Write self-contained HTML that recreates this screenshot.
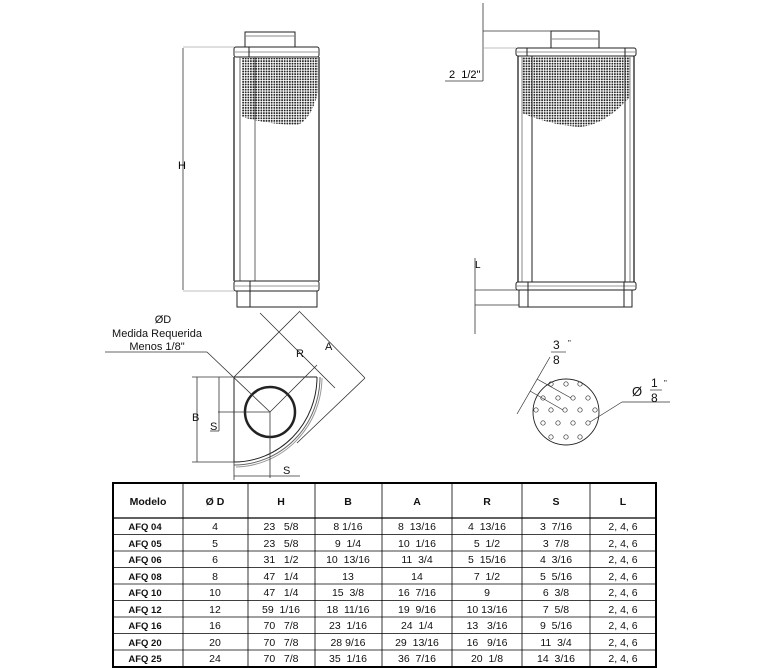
<!DOCTYPE html>
<html><head><meta charset="utf-8"><style>
html,body{margin:0;padding:0;background:#fff;}
svg{display:block;font-family:"Liberation Sans",sans-serif;}
text{white-space:pre;}
</style></head><body>
<svg width="778" height="668" viewBox="0 0 778 668" xmlns="http://www.w3.org/2000/svg">
<defs>
<pattern id="dots" width="2.6" height="2.6" patternUnits="userSpaceOnUse">
<circle cx="1.3" cy="1.3" r="0.95" fill="#222"/>
</pattern>
</defs>

<!-- LEFT FILTER -->
<g stroke="#222" fill="none" stroke-width="1">
<rect x="245" y="32" width="50" height="15"/>
<line x1="245" y1="36" x2="295" y2="36" stroke="#888"/>
<rect x="234" y="47" width="85" height="10" rx="2"/>
<line x1="234" y1="52" x2="319" y2="52" stroke="#999"/>
<line x1="234" y1="57" x2="234" y2="281" stroke-width="1.3"/>
<line x1="319" y1="57" x2="319" y2="281" stroke-width="1.3"/>
<line x1="240" y1="57" x2="240" y2="281" stroke="#666"/>
<line x1="255" y1="57" x2="255" y2="281" stroke="#666"/>
<line x1="249" y1="47" x2="249" y2="57"/>
<rect x="234" y="281" width="85" height="10" rx="2"/>
<line x1="234" y1="286" x2="319" y2="286" stroke="#999"/>
<rect x="237" y="291" width="80" height="16"/>
<line x1="250" y1="281" x2="250" y2="307"/>
</g>
<path d="M242,58 L318,58 L318,92 Q312,118 298,125 Q270,125 242,117 Z" fill="url(#dots)"/>
<g stroke="#333" stroke-width="0.8">
<line x1="183" y1="47" x2="234" y2="47" stroke="#aaa"/>
<line x1="183" y1="291" x2="234" y2="291" stroke="#aaa"/>
<line x1="183" y1="48" x2="183" y2="290"/>
</g>
<text x="178" y="169" font-size="11">H</text>

<!-- RIGHT FILTER -->
<g stroke="#222" fill="none" stroke-width="1">
<rect x="551" y="31" width="48" height="17"/>
<line x1="551" y1="39" x2="599" y2="39" stroke="#888"/>
<rect x="516" y="48" width="120" height="8" rx="2"/>
<line x1="516" y1="52" x2="636" y2="52" stroke="#999"/>
<line x1="527" y1="48" x2="527" y2="56"/>
<line x1="625" y1="48" x2="625" y2="56"/>
<line x1="518" y1="56" x2="518" y2="282" stroke-width="1.3"/>
<line x1="634" y1="56" x2="634" y2="282" stroke-width="1.3"/>
<line x1="522" y1="56" x2="522" y2="282" stroke="#888"/>
<line x1="532" y1="56" x2="532" y2="282"/>
<line x1="625" y1="56" x2="625" y2="282"/>
<line x1="630" y1="56" x2="630" y2="282" stroke="#888"/>
<rect x="516" y="282" width="120" height="8" rx="2"/>
<line x1="516" y1="286" x2="636" y2="286" stroke="#999"/>
<line x1="528" y1="282" x2="528" y2="307"/>
<line x1="624" y1="282" x2="624" y2="307"/>
<rect x="519" y="290" width="113" height="17"/>
</g>
<path d="M522,57 L630,57 L630,97 Q605,125 580,127 Q550,125 522,113 Z" fill="url(#dots)"/>
<g stroke="#333" stroke-width="0.8">
<line x1="483" y1="3" x2="483" y2="81"/>
<line x1="483" y1="31" x2="551" y2="31"/>
<line x1="483" y1="48" x2="516" y2="48" stroke="#aaa"/>
<line x1="445" y1="81" x2="483" y2="81"/>
<line x1="475" y1="258" x2="475" y2="334"/>
<line x1="475" y1="290" x2="519" y2="290"/>
<line x1="475" y1="305" x2="519" y2="305"/>
</g>
<text x="449" y="78" font-size="11">2  1/2"</text>
<text x="475" y="268" font-size="10">L</text>

<!-- CROSS SECTION -->
<g stroke="#222" fill="none" stroke-width="1">
<line x1="234" y1="377" x2="317" y2="377"/>
<line x1="234" y1="377" x2="234" y2="462"/>
<path d="M317,377 A83,85 0 0 1 234,462"/>
<path d="M320,377 A86,88 0 0 1 234,465" stroke="#666"/>
<path d="M322,378 A88,90 0 0 1 236,467" stroke="#999"/>
<circle cx="270" cy="412" r="25" stroke-width="2.5"/>
</g>
<g stroke="#333" stroke-width="0.8" fill="none">
<line x1="234" y1="377" x2="300" y2="311"/>
<line x1="270" y1="412" x2="317" y2="365"/>
<line x1="260" y1="313" x2="335" y2="388"/>
<line x1="300" y1="312" x2="365" y2="378"/>
<line x1="365" y1="378" x2="297" y2="443"/>
<line x1="105" y1="352" x2="207" y2="352"/>
<line x1="207" y1="352" x2="270" y2="412"/>
<line x1="197" y1="377" x2="197" y2="462"/>
<line x1="192" y1="377" x2="234" y2="377"/>
<line x1="192" y1="462" x2="234" y2="462"/>
<line x1="219" y1="377" x2="219" y2="431"/>
<line x1="210" y1="431" x2="219" y2="431"/>
<line x1="218" y1="412" x2="270" y2="412"/>
<line x1="270" y1="412" x2="270" y2="478"/>
<line x1="234" y1="462" x2="234" y2="480"/>
<line x1="234" y1="476" x2="300" y2="476"/>
</g>
<g font-size="11" fill="#111">
<text x="163" y="323" text-anchor="middle">ØD</text>
<text x="157" y="337" text-anchor="middle">Medida Requerida</text>
<text x="157" y="350" text-anchor="middle">Menos 1/8"</text>
<text x="325" y="350">A</text>
<text x="296" y="357">R</text>
<text x="192" y="421">B</text>
<text x="210" y="430">S</text>
<text x="283" y="474">S</text>
</g>

<!-- PERF DETAIL -->
<circle cx="566" cy="412" r="33" fill="none" stroke="#222" stroke-width="0.9"/>
<g fill="none" stroke="#333" stroke-width="0.7">
<circle cx="551" cy="384" r="2.2"/><circle cx="566" cy="384" r="2.2"/><circle cx="580" cy="384" r="2.2"/>
<circle cx="543" cy="398" r="2.2"/><circle cx="558" cy="398" r="2.2"/><circle cx="573" cy="398" r="2.2"/><circle cx="588" cy="398" r="2.2"/>
<circle cx="536" cy="410" r="2.2"/><circle cx="551" cy="410" r="2.2"/><circle cx="565" cy="410" r="2.2"/><circle cx="580" cy="410" r="2.2"/><circle cx="595" cy="410" r="2.2"/>
<circle cx="543" cy="423" r="2.2"/><circle cx="558" cy="423" r="2.2"/><circle cx="573" cy="423" r="2.2"/><circle cx="588" cy="423" r="2.2"/>
<circle cx="551" cy="437" r="2.2"/><circle cx="566" cy="437" r="2.2"/><circle cx="580" cy="437" r="2.2"/>
<line x1="517" y1="414" x2="550" y2="357"/>
<line x1="537" y1="379" x2="571" y2="398"/>
<line x1="530" y1="391" x2="563" y2="410"/>
<line x1="622" y1="402" x2="670" y2="402"/>
<line x1="622" y1="402" x2="590" y2="422"/>
<line x1="551" y1="352" x2="566" y2="352"/>
<line x1="650" y1="390" x2="662" y2="390"/>
</g>
<g font-size="12" fill="#111">
<text x="553" y="349">3</text><text x="553" y="364">8</text><text x="568" y="346" font-size="8">"</text>
<text x="632" y="396" font-size="13">Ø</text>
<text x="651" y="387">1</text><text x="651" y="402">8</text><text x="664" y="386" font-size="8">"</text>
</g>

<!-- TABLE -->
<g stroke="#000" fill="none">
<rect x="113" y="483" width="543" height="184" stroke-width="2"/>
<line x1="113" y1="518" x2="656" y2="518" stroke-width="1.2"/>
<g stroke-width="0.8">
<line x1="183" y1="483" x2="183" y2="667"/><line x1="248" y1="483" x2="248" y2="667"/>
<line x1="315" y1="483" x2="315" y2="667"/><line x1="382" y1="483" x2="382" y2="667"/>
<line x1="452" y1="483" x2="452" y2="667"/><line x1="522" y1="483" x2="522" y2="667"/>
<line x1="590" y1="483" x2="590" y2="667"/>
<line x1="113" y1="534.5" x2="656" y2="534.5"/><line x1="113" y1="551" x2="656" y2="551"/>
<line x1="113" y1="567.5" x2="656" y2="567.5"/><line x1="113" y1="584" x2="656" y2="584"/>
<line x1="113" y1="600.5" x2="656" y2="600.5"/><line x1="113" y1="617" x2="656" y2="617"/>
<line x1="113" y1="633.5" x2="656" y2="633.5"/><line x1="113" y1="650" x2="656" y2="650"/>
</g>
</g>
<g font-size="10.5" font-weight="bold" text-anchor="middle" fill="#111">
<text x="148" y="505">Modelo</text><text x="215" y="505">Ø D</text><text x="281" y="505">H</text>
<text x="348" y="505">B</text><text x="417" y="505">A</text><text x="487" y="505">R</text>
<text x="556" y="505">S</text><text x="623" y="505">L</text>
</g>
<g font-size="10.5" text-anchor="middle" fill="#111">
<g font-weight="bold" font-size="9.5">
<text x="145" y="530">AFQ 04</text><text x="145" y="547">AFQ 05</text><text x="145" y="563">AFQ 06</text>
<text x="145" y="580">AFQ 08</text><text x="145" y="596">AFQ 10</text><text x="145" y="613">AFQ 12</text>
<text x="145" y="629">AFQ 16</text><text x="145" y="646">AFQ 20</text><text x="145" y="662">AFQ 25</text>
</g>
<text x="215" y="530">4</text><text x="215" y="547">5</text><text x="215" y="563">6</text><text x="215" y="580">8</text><text x="215" y="596">10</text><text x="215" y="613">12</text><text x="215" y="629">16</text><text x="215" y="646">20</text><text x="215" y="662">24</text>
<text x="281" y="530">23   5/8</text><text x="281" y="547">23   5/8</text><text x="281" y="563">31   1/2</text><text x="281" y="580">47   1/4</text><text x="281" y="596">47   1/4</text><text x="281" y="613">59  1/16</text><text x="281" y="629">70   7/8</text><text x="281" y="646">70   7/8</text><text x="281" y="662">70   7/8</text>
<text x="348" y="530">8 1/16</text><text x="348" y="547">9  1/4</text><text x="348" y="563">10  13/16</text><text x="348" y="580">13</text><text x="348" y="596">15  3/8</text><text x="348" y="613">18  11/16</text><text x="348" y="629">23  1/16</text><text x="348" y="646">28 9/16</text><text x="348" y="662">35  1/16</text>
<text x="417" y="530">8  13/16</text><text x="417" y="547">10  1/16</text><text x="417" y="563">11  3/4</text><text x="417" y="580">14</text><text x="417" y="596">16  7/16</text><text x="417" y="613">19  9/16</text><text x="417" y="629">24  1/4</text><text x="417" y="646">29  13/16</text><text x="417" y="662">36  7/16</text>
<text x="487" y="530">4  13/16</text><text x="487" y="547">5  1/2</text><text x="487" y="563">5  15/16</text><text x="487" y="580">7  1/2</text><text x="487" y="596">9</text><text x="487" y="613">10 13/16</text><text x="487" y="629">13   3/16</text><text x="487" y="646">16   9/16</text><text x="487" y="662">20  1/8</text>
<text x="556" y="530">3  7/16</text><text x="556" y="547">3  7/8</text><text x="556" y="563">4  3/16</text><text x="556" y="580">5  5/16</text><text x="556" y="596">6  3/8</text><text x="556" y="613">7  5/8</text><text x="556" y="629">9  5/16</text><text x="556" y="646">11  3/4</text><text x="556" y="662">14  3/16</text>
<text x="623" y="530">2, 4, 6</text><text x="623" y="547">2, 4, 6</text><text x="623" y="563">2, 4, 6</text><text x="623" y="580">2, 4, 6</text><text x="623" y="596">2, 4, 6</text><text x="623" y="613">2, 4, 6</text><text x="623" y="629">2, 4, 6</text><text x="623" y="646">2, 4, 6</text><text x="623" y="662">2, 4, 6</text>
</g>
</svg>
</body></html>
